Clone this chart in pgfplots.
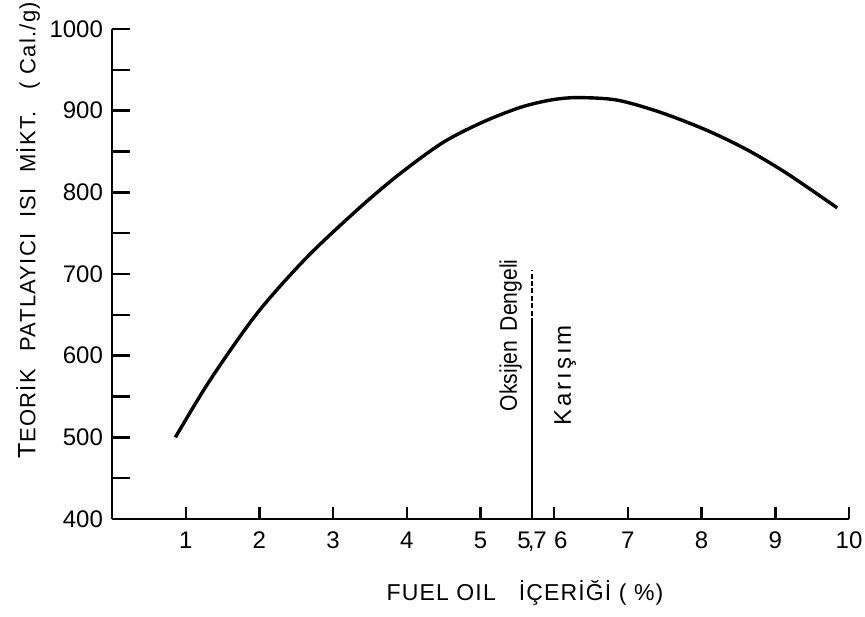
\documentclass[border=0pt]{standalone}
\usepackage{fontspec}
\setmainfont{Liberation Sans}
\usepackage{pgfplots}
\pgfplotsset{compat=1.18}
\begin{document}
\begin{tikzpicture}
\path[use as bounding box] (-56pt,-48.5pt) rectangle (376.5pt,259.5pt);
\begin{axis}[
  at={(0,0)}, anchor=south west,
  scale only axis, width=368.5pt, height=245pt,
  xmin=0, xmax=10, ymin=400, ymax=1000,
  axis x line*=bottom, axis y line*=left,
  axis line style={line width=1.4pt, -},
  xtick={1,2,3,4,5,5.7,6,7,8,9,10},
  xticklabels={1,2,3,4,5,{5\kern-0.12em,\kern-0.05em7},{\hphantom{0}6},7,8,9,10},
  ytick={400,450,...,1000},
  yticklabels={400,,500,,600,,700,,800,,900,,1000},
  tick align=inside,
  major tick length=8pt,
  xtick style={line width=1.2pt, black, /pgfplots/major tick length=6pt},
  ytick style={line width=1.2pt, black, /pgfplots/major tick length=9pt},
  /pgf/number format/assume math mode=true,
  tick label style={font=\fontsize{12}{14}\selectfont},
  xticklabel style={yshift=-3pt},
  yticklabel style={xshift=-1pt},
  clip=false,
]
\addplot[smooth, line width=1.7pt, black] coordinates {
 (0.86,500)(1.33,570)(1.97,652)(2.65,721)(3.37,782)(3.91,823)(4.49,861)
 (5.03,886)(5.54,904)(5.95,913)(6.31,916)(6.85,913)(7.44,898)(8.07,876)
 (8.62,852)(9.16,823)(9.84,781)};
\addplot[line width=1pt, black] coordinates {(5.7,400)(5.7,640)};
\addplot[line width=1pt, black, dash pattern=on 2.5pt off 1.2pt] coordinates {(5.7,640)(5.7,705)};
\node[rotate=90, font=\fontsize{12}{14}\selectfont\addfontfeature{FakeStretch=0.88}] at (axis cs:5.41,625) {Oksijen\hspace{0.4em}Dengeli};
\node[rotate=90, font=\fontsize{12}{14}\selectfont\addfontfeature{LetterSpace=12}] at (axis cs:6.15,576) {Karışım};
\end{axis}
\node[rotate=90, font=\fontsize{11}{13}\selectfont\addfontfeature{LetterSpace=6}] at (-42pt,144.5pt) {{\fontsize{12.5}{14}\selectfont T}EORİK\hspace{0.8em}PATLAYICI\hspace{0.7em}ISI\hspace{0.7em}MİKT.\hspace{1em}( Cal./g)};
\node[font=\fontsize{11.5}{14}\selectfont\addfontfeature{LetterSpace=5}] at (206.5pt,-37pt) {FUEL OIL\hspace{1em}İÇERİĞİ ( \%)};
\end{tikzpicture}
\end{document}
